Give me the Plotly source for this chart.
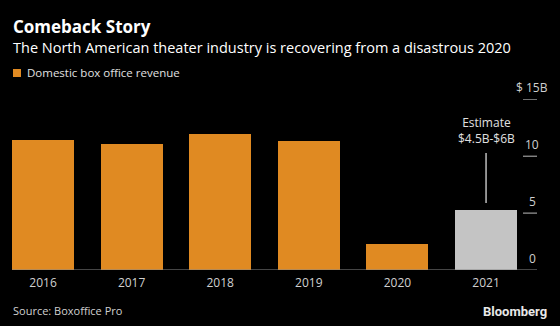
import plotly.graph_objects as go

years = ["2016", "2017", "2018", "2019", "2020", "2021"]
revenue = [11.38, 11.07, 11.89, 11.32, 2.28, 5.25]
bar_colors = ["#E08A22", "#E08A22", "#E08A22", "#E08A22", "#E08A22", "#C4C4C4"]
tick_vals = [0, 5, 10, 15]
tick_text = ["0", "5", "10", "$ 15B"]

W, H = 560, 326
FONT = "Open Sans"

def px(x):
    return x / W

def py(y):
    return 1 - y / H

x_pos = list(range(len(years)))

fig = go.Figure()
fig.add_trace(go.Bar(
    x=x_pos, y=revenue, width=0.7,
    marker=dict(color=bar_colors, line=dict(width=0)),
    showlegend=False, hoverinfo="skip",
))

fig.update_layout(
    width=W, height=H,
    margin=dict(l=0, r=0, t=0, b=0),
    paper_bgcolor="#000000", plot_bgcolor="#000000",
    font=dict(family=FONT, color="#FFFFFF", size=12),
    xaxis=dict(
        domain=[px(12), px(537)], range=[-0.35, 5.575],
        tickmode="array", tickvals=x_pos, ticktext=years,
        showgrid=False, zeroline=False, showline=False, ticks="",
        tickfont=dict(family=FONT, size=12, color="#D0D0D0"),
        ticklabelstandoff=4,
    ),
    yaxis=dict(
        domain=[py(270), py(99.3)], range=[0, 15],
        showgrid=False, zeroline=False, showline=False,
        showticklabels=False, ticks="",
    ),
    bargap=0,
)

# baseline
fig.add_shape(type="line", xref="paper", yref="y", x0=px(12), x1=px(537), y0=0, y1=0,
              line=dict(color="#8A8A8A", width=1))

# right-side tick marks and labels
for v, t in zip(tick_vals, tick_text):
    if v != 0:
        fig.add_shape(type="line", xref="paper", yref="y", x0=px(523), x1=px(537), y0=v, y1=v,
                      line=dict(color="#BDBDBD", width=1))
    fig.add_annotation(xref="paper", yref="y", x=px(532), y=v, yshift=12,
                       text=t, showarrow=False, xanchor="center", yanchor="middle",
                       font=dict(family=FONT, size=12, color="#D0D0D0"))

# estimate annotation
fig.add_shape(type="line", xref="x", yref="paper", x0=5, x1=5, y0=py(153), y1=py(203),
              line=dict(color="#BDBDBD", width=1.5))
fig.add_annotation(xref="x", yref="paper", x=5, y=py(130.5), text="Estimate<br>$4.5B-$6B",
                   showarrow=False, xanchor="center", yanchor="middle",
                   font=dict(family=FONT, size=12, color="#E0E0E0"))

# title / subtitle
fig.add_annotation(xref="paper", yref="paper", x=px(11), y=py(27), text="<b>Comeback Story</b>",
                   showarrow=False, xanchor="left", yanchor="middle",
                   font=dict(family=FONT, size=17, color="#FFFFFF"))
fig.add_annotation(xref="paper", yref="paper", x=px(11), y=py(47),
                   text="The North American theater industry is recovering from a disastrous 2020",
                   showarrow=False, xanchor="left", yanchor="middle",
                   font=dict(family=FONT, size=14.5, color="#FFFFFF"))

# legend
fig.add_shape(type="rect", xref="paper", yref="paper", x0=px(13), x1=px(21), y0=py(69), y1=py(77),
              fillcolor="#E08A22", line=dict(width=0))
fig.add_annotation(xref="paper", yref="paper", x=px(25), y=py(72.5), text="Domestic box office revenue",
                   showarrow=False, xanchor="left", yanchor="middle",
                   font=dict(family=FONT, size=11.5, color="#E0E0E0"))

# footer
fig.add_annotation(xref="paper", yref="paper", x=px(11), y=py(310), text="Source: Boxoffice Pro",
                   showarrow=False, xanchor="left", yanchor="middle",
                   font=dict(family=FONT, size=11, color="#D0D0D0"))
fig.add_annotation(xref="paper", yref="paper", x=px(549), y=py(311), text="<b>Bloomberg</b>",
                   showarrow=False, xanchor="right", yanchor="middle",
                   font=dict(family="Roboto", size=13, color="#E8E8E8"))

fig.write_html("out.html")
